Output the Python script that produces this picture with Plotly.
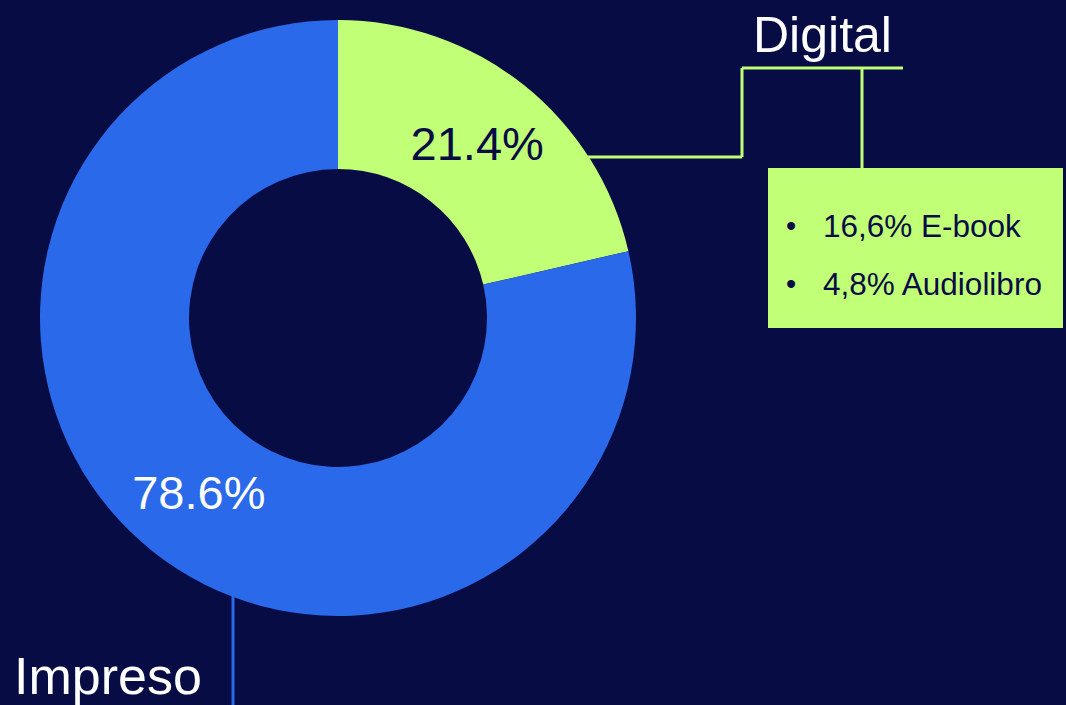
import plotly.graph_objects as go

# Data
categories = ["Digital", "Impreso"]
values = [21.4, 78.6]
digital_breakdown = ["16,6% E-book", "4,8% Audiolibro"]

BG = "#070C45"
BLUE = "#2A69EA"
GREEN = "#C1FF77"
NAVY = "#070C45"
FONT = "Liberation Sans, Arial, sans-serif"

W, H = 1066, 705


def px(x):
    return x / W


def py(y):
    return 1 - y / H


fig = go.Figure(
    go.Pie(
        labels=categories,
        values=values,
        hole=0.5,
        sort=False,
        direction="clockwise",
        rotation=0,
        marker=dict(colors=[GREEN, BLUE], line=dict(width=0)),
        texttemplate="%{percent:.1%}",
        textposition="inside",
        insidetextorientation="horizontal",
        insidetextfont=dict(color=[NAVY, "white"], size=47, family=FONT),
        hoverinfo="skip",
        showlegend=False,
        domain=dict(x=[px(40), px(636)], y=[py(616), py(20)]),
    )
)

shapes = [
    # Digital connector
    dict(type="line", x0=px(588), y0=py(157), x1=px(742), y1=py(157),
         line=dict(color=GREEN, width=3)),
    dict(type="line", x0=px(742), y0=py(157), x1=px(742), y1=py(68),
         line=dict(color=GREEN, width=3)),
    dict(type="line", x0=px(742), y0=py(68), x1=px(903), y1=py(68),
         line=dict(color=GREEN, width=3)),
    dict(type="line", x0=px(862), y0=py(68), x1=px(862), y1=py(168),
         line=dict(color=GREEN, width=3)),
    # Breakdown box
    dict(type="rect", x0=px(768), y0=py(168), x1=px(1063), y1=py(328),
         fillcolor=GREEN, line=dict(width=0), layer="above"),
    # Impreso connector
    dict(type="line", x0=px(233), y0=py(596), x1=px(233), y1=py(706),
         line=dict(color=BLUE, width=3)),
]

annotations = [
    dict(text="Digital", x=px(822), y=py(35), xref="paper", yref="paper",
         xanchor="center", yanchor="middle", showarrow=False,
         font=dict(color="white", size=50, family=FONT)),
    dict(text="Impreso", x=px(12), y=py(676), xref="paper", yref="paper",
         xanchor="left", yanchor="middle", showarrow=False,
         font=dict(color="white", size=52, family=FONT)),
]

line_ys = [226, 284]
for txt, yy in zip(digital_breakdown, line_ys):
    annotations.append(dict(text="•", x=px(791), y=py(yy), xref="paper", yref="paper",
                            xanchor="center", yanchor="middle", showarrow=False,
                            font=dict(color=NAVY, size=29, family=FONT)))
    annotations.append(dict(text=txt, x=px(821), y=py(yy), xref="paper", yref="paper",
                            xanchor="left", yanchor="middle", showarrow=False,
                            font=dict(color=NAVY, size=31.5, family=FONT)))

fig.update_layout(
    width=W,
    height=H,
    margin=dict(l=0, r=0, t=0, b=0),
    paper_bgcolor=BG,
    plot_bgcolor=BG,
    shapes=shapes,
    annotations=annotations,
)

fig.write_html(
    "out.html",
    config={"displayModeBar": False},
    post_script="document.body.style.margin='0';document.body.style.background='%s';" % BG,
)
